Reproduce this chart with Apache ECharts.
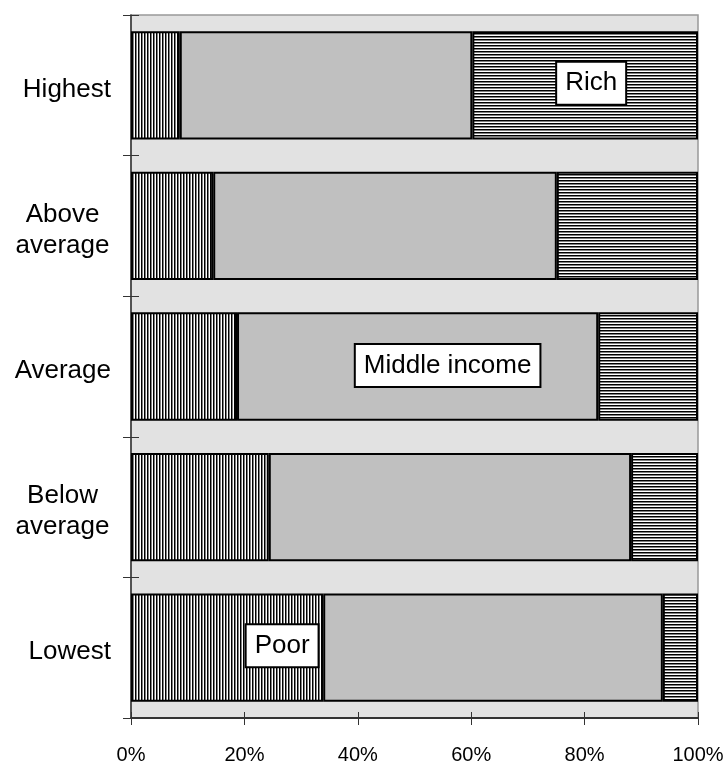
<!DOCTYPE html>
<html>
<head>
<meta charset="utf-8">
<script src="https://cdn.jsdelivr.net/npm/echarts@6/dist/echarts.min.js"></script>
<style>
html,body{margin:0;padding:0;background:#fff;}
#chart{width:727px;height:765px;}
</style>
</head>
<body>
<div id="chart"></div>
<script>
var categories = ['Highest', 'Above average', 'Average', 'Below average', 'Lowest'];
var poor = [8.6, 14.5, 18.7, 24.3, 33.9];
var middle = [51.6, 60.6, 63.7, 63.9, 59.9];
var rich = [39.8, 24.9, 17.6, 11.8, 6.2];
var xTicks = [0, 20, 40, 60, 80, 100];

function makePattern(vertical) {
  var c = document.createElement('canvas');
  c.width = 3; c.height = 3;
  var ctx = c.getContext('2d');
  ctx.fillStyle = '#ffffff';
  ctx.fillRect(0, 0, 3, 3);
  if (vertical) {
    ctx.fillStyle = '#000000'; ctx.fillRect(0, 0, 1, 3);
    ctx.fillStyle = '#808080'; ctx.fillRect(1, 0, 1, 3);
  } else {
    ctx.fillStyle = '#000000'; ctx.fillRect(0, 0, 3, 1);
    ctx.fillStyle = '#808080'; ctx.fillRect(0, 1, 3, 1);
  }
  return { image: c, repeat: 'repeat' };
}

var FONT = '"Liberation Sans", Arial, sans-serif';
var boxLabel = {
  show: true,
  position: 'inside',
  color: '#000',
  fontSize: 26,
  fontFamily: FONT,
  lineHeight: 30,
  backgroundColor: '#fff',
  borderColor: '#000',
  borderWidth: 2,
  padding: [6, 8, 5, 8]
};

function withLabel(arr, idx, text, offset) {
  return arr.map(function (v, i) {
    if (i !== idx) return v;
    return { value: v, label: Object.assign({}, boxLabel, { formatter: text, offset: offset }) };
  });
}

var chart = echarts.init(document.getElementById('chart'));
chart.setOption({
  animation: false,
  grid: {
    left: 131, right: 29, top: 15, bottom: 46,
    show: true, backgroundColor: '#e2e2e2', borderColor: '#999', borderWidth: 1.5
  },
  xAxis: [{
    type: 'value', min: 0, max: 100, interval: 20, position: 'bottom',
    axisLine: { show: true, lineStyle: { color: '#333', width: 2 } },
    axisTick: { show: true, length: 7, lineStyle: { color: '#333', width: 1 } },
    splitLine: { show: false },
    axisLabel: {
      margin: 27, fontSize: 20, color: '#000', fontFamily: FONT,
      formatter: function (v) { return xTicks.indexOf(v) >= 0 ? v + '%' : ''; }
    }
  }, {
    type: 'value', min: 0, max: 100, interval: 20, position: 'bottom', offset: 0,
    axisLine: { show: false },
    axisTick: { show: true, inside: true, length: 6, lineStyle: { color: '#333', width: 1 } },
    splitLine: { show: false }, axisLabel: { show: false }
  }],
  yAxis: [{
    type: 'category', data: categories, inverse: true, position: 'left',
    axisLine: { show: true, lineStyle: { color: '#333', width: 1.5 } },
    axisTick: { show: true, length: 8, lineStyle: { color: '#333', width: 1 } },
    axisLabel: {
      margin: 20, fontSize: 26, color: '#000', fontFamily: FONT,
      padding: [9, 0, 0, 0],
      formatter: function (v) {
        var parts = v.split(' ');
        if (parts.length === 2) return '{c|' + parts[0] + '}\n{c|' + parts[1] + '}';
        return v;
      },
      rich: { c: { width: 97, align: 'center', fontSize: 26, lineHeight: 31, fontFamily: FONT, color: '#000' } }
    }
  }, {
    type: 'category', data: categories, inverse: true, position: 'left', offset: 0,
    axisLine: { show: false },
    axisTick: { show: true, inside: true, length: 8, lineStyle: { color: '#333', width: 1 } },
    axisLabel: { show: false }
  }],
  series: [{
    name: 'Poor', type: 'bar', stack: 'all', barCategoryGap: '23%',
    data: withLabel(poor, 4, 'Poor', [55, -2]),
    itemStyle: { color: makePattern(true), borderColor: '#000', borderWidth: 2 }
  }, {
    name: 'Middle income', type: 'bar', stack: 'all', barCategoryGap: '23%',
    data: withLabel(middle, 2, 'Middle income', [30, -1]),
    itemStyle: { color: '#c0c0c0', borderColor: '#000', borderWidth: 2 }
  }, {
    name: 'Rich', type: 'bar', stack: 'all', barCategoryGap: '23%',
    data: withLabel(rich, 0, 'Rich', [6, -2]),
    itemStyle: { color: makePattern(false), borderColor: '#000', borderWidth: 2 }
  }]
});
</script>
</body>
</html>
